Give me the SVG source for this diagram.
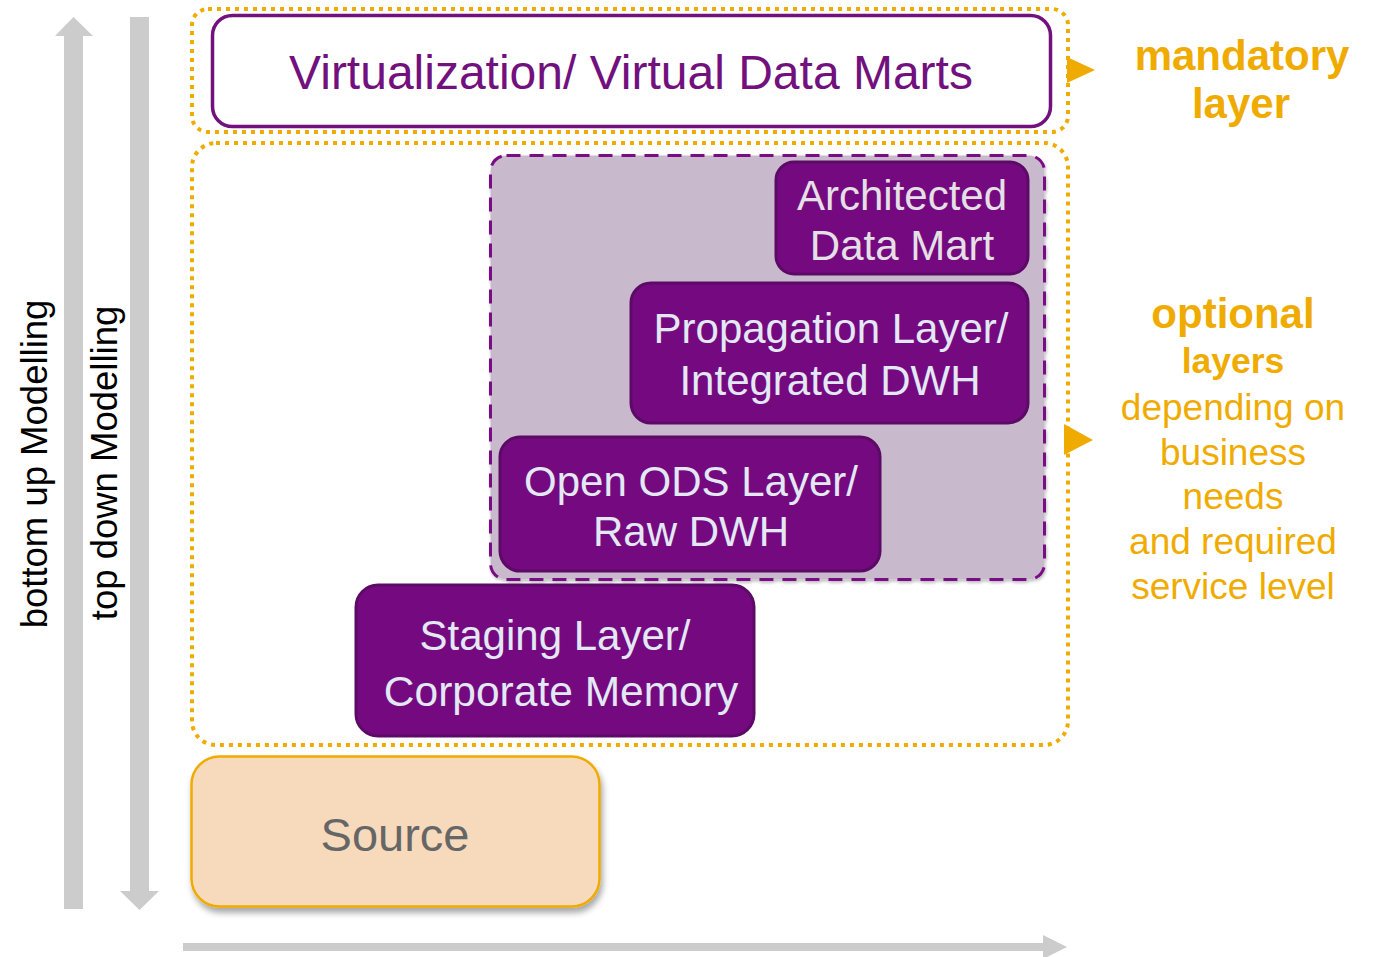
<svg xmlns="http://www.w3.org/2000/svg" width="1378" height="957" viewBox="0 0 1378 957">
<style>
.arrow{fill:#cccccc}
.dotbox{fill:none;stroke:#f0ab00;stroke-width:4;stroke-dasharray:4 5}
.layer{fill:#750a80;stroke:#5c0a66;stroke-width:3}
.lt{font-family:"Liberation Sans",Arial,sans-serif;font-size:42px;fill:#e2e8f4;text-anchor:middle}
.side{font-family:"Liberation Sans",Arial,sans-serif;fill:#f0ab00;text-anchor:middle}
.vert{font-family:"Liberation Sans",Arial,sans-serif;font-size:36.5px;fill:#000;text-anchor:middle}
</style>
<defs>
<filter id="sh" x="-10%" y="-10%" width="120%" height="130%">
<feDropShadow dx="2" dy="5" stdDeviation="3" flood-color="#000" flood-opacity="0.35"/>
</filter>
<filter id="sh2" x="-10%" y="-10%" width="120%" height="130%">
<feDropShadow dx="1" dy="2" stdDeviation="1.5" flood-color="#000" flood-opacity="0.25"/>
</filter>
</defs>

<g id="axes">
<polygon class="arrow" points="64,909 83,909 83,36 93,36 73.5,17 55,36 64,36"/>
<polygon class="arrow" points="130,17 149,17 149,891 159,891 139.5,910 120,891 130,891"/>
<polygon class="arrow" points="183,943 1043,943 1043,935 1067,947 1043,959 1043,951 183,951"/>
<text class="vert" transform="translate(47,464) rotate(-90)">bottom up Modelling</text>
<text class="vert" transform="translate(117,463) rotate(-90)">top down Modelling</text>
</g>

<g id="mandatory-group">
<rect class="dotbox" x="192" y="9" width="876" height="123" rx="16"/>
<polygon fill="#f0ab00" points="1067,57 1095,70 1067,83"/>
<text class="side" x="1242" y="70" font-size="42" font-weight="bold">mandatory</text>
<text class="side" x="1241" y="118" font-size="42" font-weight="bold">layer</text>
</g>

<g id="virtualization">
<rect x="212.5" y="15.5" width="838" height="111" rx="20" fill="#fff" stroke="#72107e" stroke-width="3.5"/>
<text x="631" y="89" font-family="Liberation Sans, Arial, sans-serif" font-size="48" fill="#72107e" text-anchor="middle">Virtualization/ Virtual Data Marts</text>
</g>

<g id="optional-group">
<rect class="dotbox" x="192" y="143" width="876" height="602" rx="24"/>
<polygon fill="#f0ab00" points="1064,424 1093,440 1064,455"/>
<text class="side" x="1233" y="328" font-size="42" font-weight="bold">optional</text>
<text class="side" x="1233" y="373" font-size="35.5" font-weight="bold">layers</text>
<text class="side" x="1233" y="420" font-size="37">depending on</text>
<text class="side" x="1233" y="465" font-size="37">business</text>
<text class="side" x="1233" y="509" font-size="37">needs</text>
<text class="side" x="1233" y="554" font-size="37">and required</text>
<text class="side" x="1233" y="599" font-size="37">service level</text>
</g>

<g id="optional-region">
<rect x="490.5" y="155.5" width="554" height="424" rx="16" fill="#c9b9cc" stroke="#7a1086" stroke-width="3" stroke-dasharray="14 9" filter="url(#sh2)"/>
</g>

<g id="architected-data-mart">
<rect class="layer" x="776" y="162" width="252" height="112" rx="18"/>
<text class="lt" x="902" y="210" style="fill:#e4e0e6">Architected</text>
<text class="lt" x="902" y="260" style="fill:#e4e0e6">Data Mart</text>
</g>

<g id="propagation-layer">
<rect class="layer" x="631" y="283" width="397" height="140" rx="20"/>
<text class="lt" x="831" y="343">Propagation Layer/</text>
<text class="lt" x="830" y="395">Integrated DWH</text>
</g>

<g id="open-ods-layer">
<rect class="layer" x="500" y="437" width="380" height="134" rx="20"/>
<text class="lt" x="691" y="496">Open ODS Layer/</text>
<text class="lt" x="691" y="546">Raw DWH</text>
</g>

<g id="staging-layer">
<rect class="layer" x="356" y="585" width="398" height="151" rx="22"/>
<text class="lt" x="555" y="650">Staging Layer/</text>
<text class="lt" x="561" y="706" style="font-size:42.5px">Corporate Memory</text>
</g>

<g id="source">
<rect x="191.5" y="756.5" width="408" height="150" rx="28" fill="#f7dabb" stroke="#f0ab00" stroke-width="2.5" filter="url(#sh)"/>
<text x="395" y="851" font-family="Liberation Sans, Arial, sans-serif" font-size="47" fill="#666666" text-anchor="middle">Source</text>
</g>
</svg>
